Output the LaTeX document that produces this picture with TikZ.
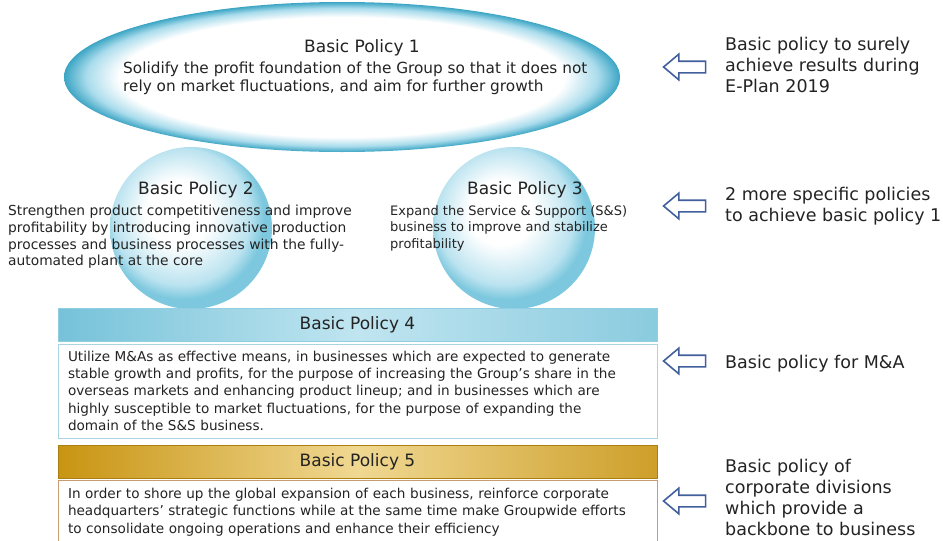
\documentclass[tikz,border=0pt]{standalone}
\usepackage{fontspec}
\setmainfont{DejaVu Sans}
\usetikzlibrary{shapes.geometric,shapes.arrows}

\definecolor{ink}{RGB}{35,35,35}
\definecolor{rimdark}{RGB}{60,165,196}
\definecolor{rimlight}{RGB}{170,220,236}
\definecolor{ballrim}{RGB}{125,200,222}
\definecolor{barblue}{RGB}{118,194,217}
\definecolor{barpale}{RGB}{192,229,240}
\definecolor{bargold}{RGB}{200,148,18}
\definecolor{barcream}{RGB}{240,216,146}
\definecolor{boxblue}{RGB}{170,212,228}
\definecolor{boxbrown}{RGB}{200,155,112}
\definecolor{arrowblue}{RGB}{65,95,155}

\pgfdeclareradialshading{rim}{\pgfpoint{0bp}{0bp}}{color(0bp)=(white); color(20bp)=(white); color(23bp)=(rimlight); color(25bp)=(rimdark); color(50bp)=(rimdark)}
\pgfdeclareradialshading{ball}{\pgfpoint{-5bp}{6bp}}{color(0bp)=(white); color(10bp)=(white); color(21bp)=(rimlight!80); color(25bp)=(ballrim); color(50bp)=(ballrim)}

\begin{document}
\begin{tikzpicture}[x=1pt,y=-1pt,
  every node/.style={inner sep=0pt, text=ink},
  title/.style={font=\fontsize{17}{20}\selectfont},
  blurb/.style={font=\fontsize{15.3}{18}\selectfont, align=left, anchor=north west},
  note/.style={font=\fontsize{17.5}{21}\selectfont, align=left, anchor=north west},
  bar/.style={minimum width=599pt, minimum height=33pt, title},
  panel/.style={anchor=north, inner xsep=10pt, text width=579pt, align=left, font=\fontsize{13.6}{17.3}\selectfont},
  hollow/.style={single arrow, draw=arrowblue, line width=1.6pt, fill=white, minimum height=42pt, inner sep=5pt, single arrow head extend=7pt, single arrow tip angle=80, shape border rotate=180}]
 \useasboundingbox (0,0) rectangle (943,541);
 \clip (0,0) rectangle (943,541);

 % the two small balls sit behind the big ellipse
 \node[circle, minimum size=162pt, shade, shading=ball] (c2) at (191,228) {};
 \node[circle, minimum size=162pt, shade, shading=ball] (c3) at (514,228) {};
 \node[ellipse, minimum width=556pt, minimum height=150pt, shade, shading=rim] (e1) at (342,77) {};

 \node[title] (h1) at (362,48) {Basic Policy 1};
 \node[blurb] (t1) at (123,62) {Solidify the profit foundation of the Group so that it does not\\
   rely on market fluctuations, and aim for further growth};

 \node[title] (h2) at (196,190) {Basic Policy 2};
 \node[blurb, font=\fontsize{13.8}{16.7}\selectfont] (t2) at (8,205) {Strengthen product competitiveness and improve\\
   profitability by introducing innovative production\\
   processes and business processes with the fully-\\
   automated plant at the core};

 \node[title] (h3) at (525,190) {Basic Policy 3};
 \node[blurb, font=\fontsize{13}{16.6}\selectfont] (t3) at (390,205) {Expand the Service \& Support (S\&S)\\
   business to improve and stabilize\\
   profitability};

 % bars and panels
 \node[bar, draw=barblue!80, left color=barblue, right color=barblue!85!white, middle color=barpale] (h4) at (357.5,325) {Basic Policy 4};
 \node[panel, draw=boxblue, minimum height=94pt] (m4) at (357.5,343.5) {Utilize M\&As as effective means, in businesses which are expected to generate\\
   stable growth and profits, for the purpose of increasing the Group’s share in the\\
   overseas markets and enhancing product lineup; and in businesses which are\\
   highly susceptible to market fluctuations, for the purpose of expanding the\\
   domain of the S\&S business.};

 \node[bar, draw=bargold!85!black, left color=bargold, right color=bargold!90!white, middle color=barcream] (h5) at (357.5,462) {Basic Policy 5};
 \node[panel, draw=boxbrown, minimum height=64pt] (m5) at (357.5,480) {In order to shore up the global expansion of each business, reinforce corporate\\
   headquarters’ strategic functions while at the same time make Groupwide efforts\\
   to consolidate ongoing operations and enhance their efficiency};

 % right hand notes
 \node[hollow] (a1) at (688,67) {};
 \node[note] (n1) at (725,37) {Basic policy to surely\\achieve results during\\E-Plan 2019};
 \node[hollow] (a2) at (688,206) {};
 \node[note] (n2) at (725,187) {2 more specific policies\\to achieve basic policy 1};
 \node[hollow] (a3) at (688,361) {};
 \node[note] (n3) at (725,355) {Basic policy for M\&A};
 \node[hollow] (a4) at (688,501) {};
 \node[note] (n4) at (725,459) {Basic policy of\\corporate divisions\\which provide a\\backbone to business};

\end{tikzpicture}
\end{document}
